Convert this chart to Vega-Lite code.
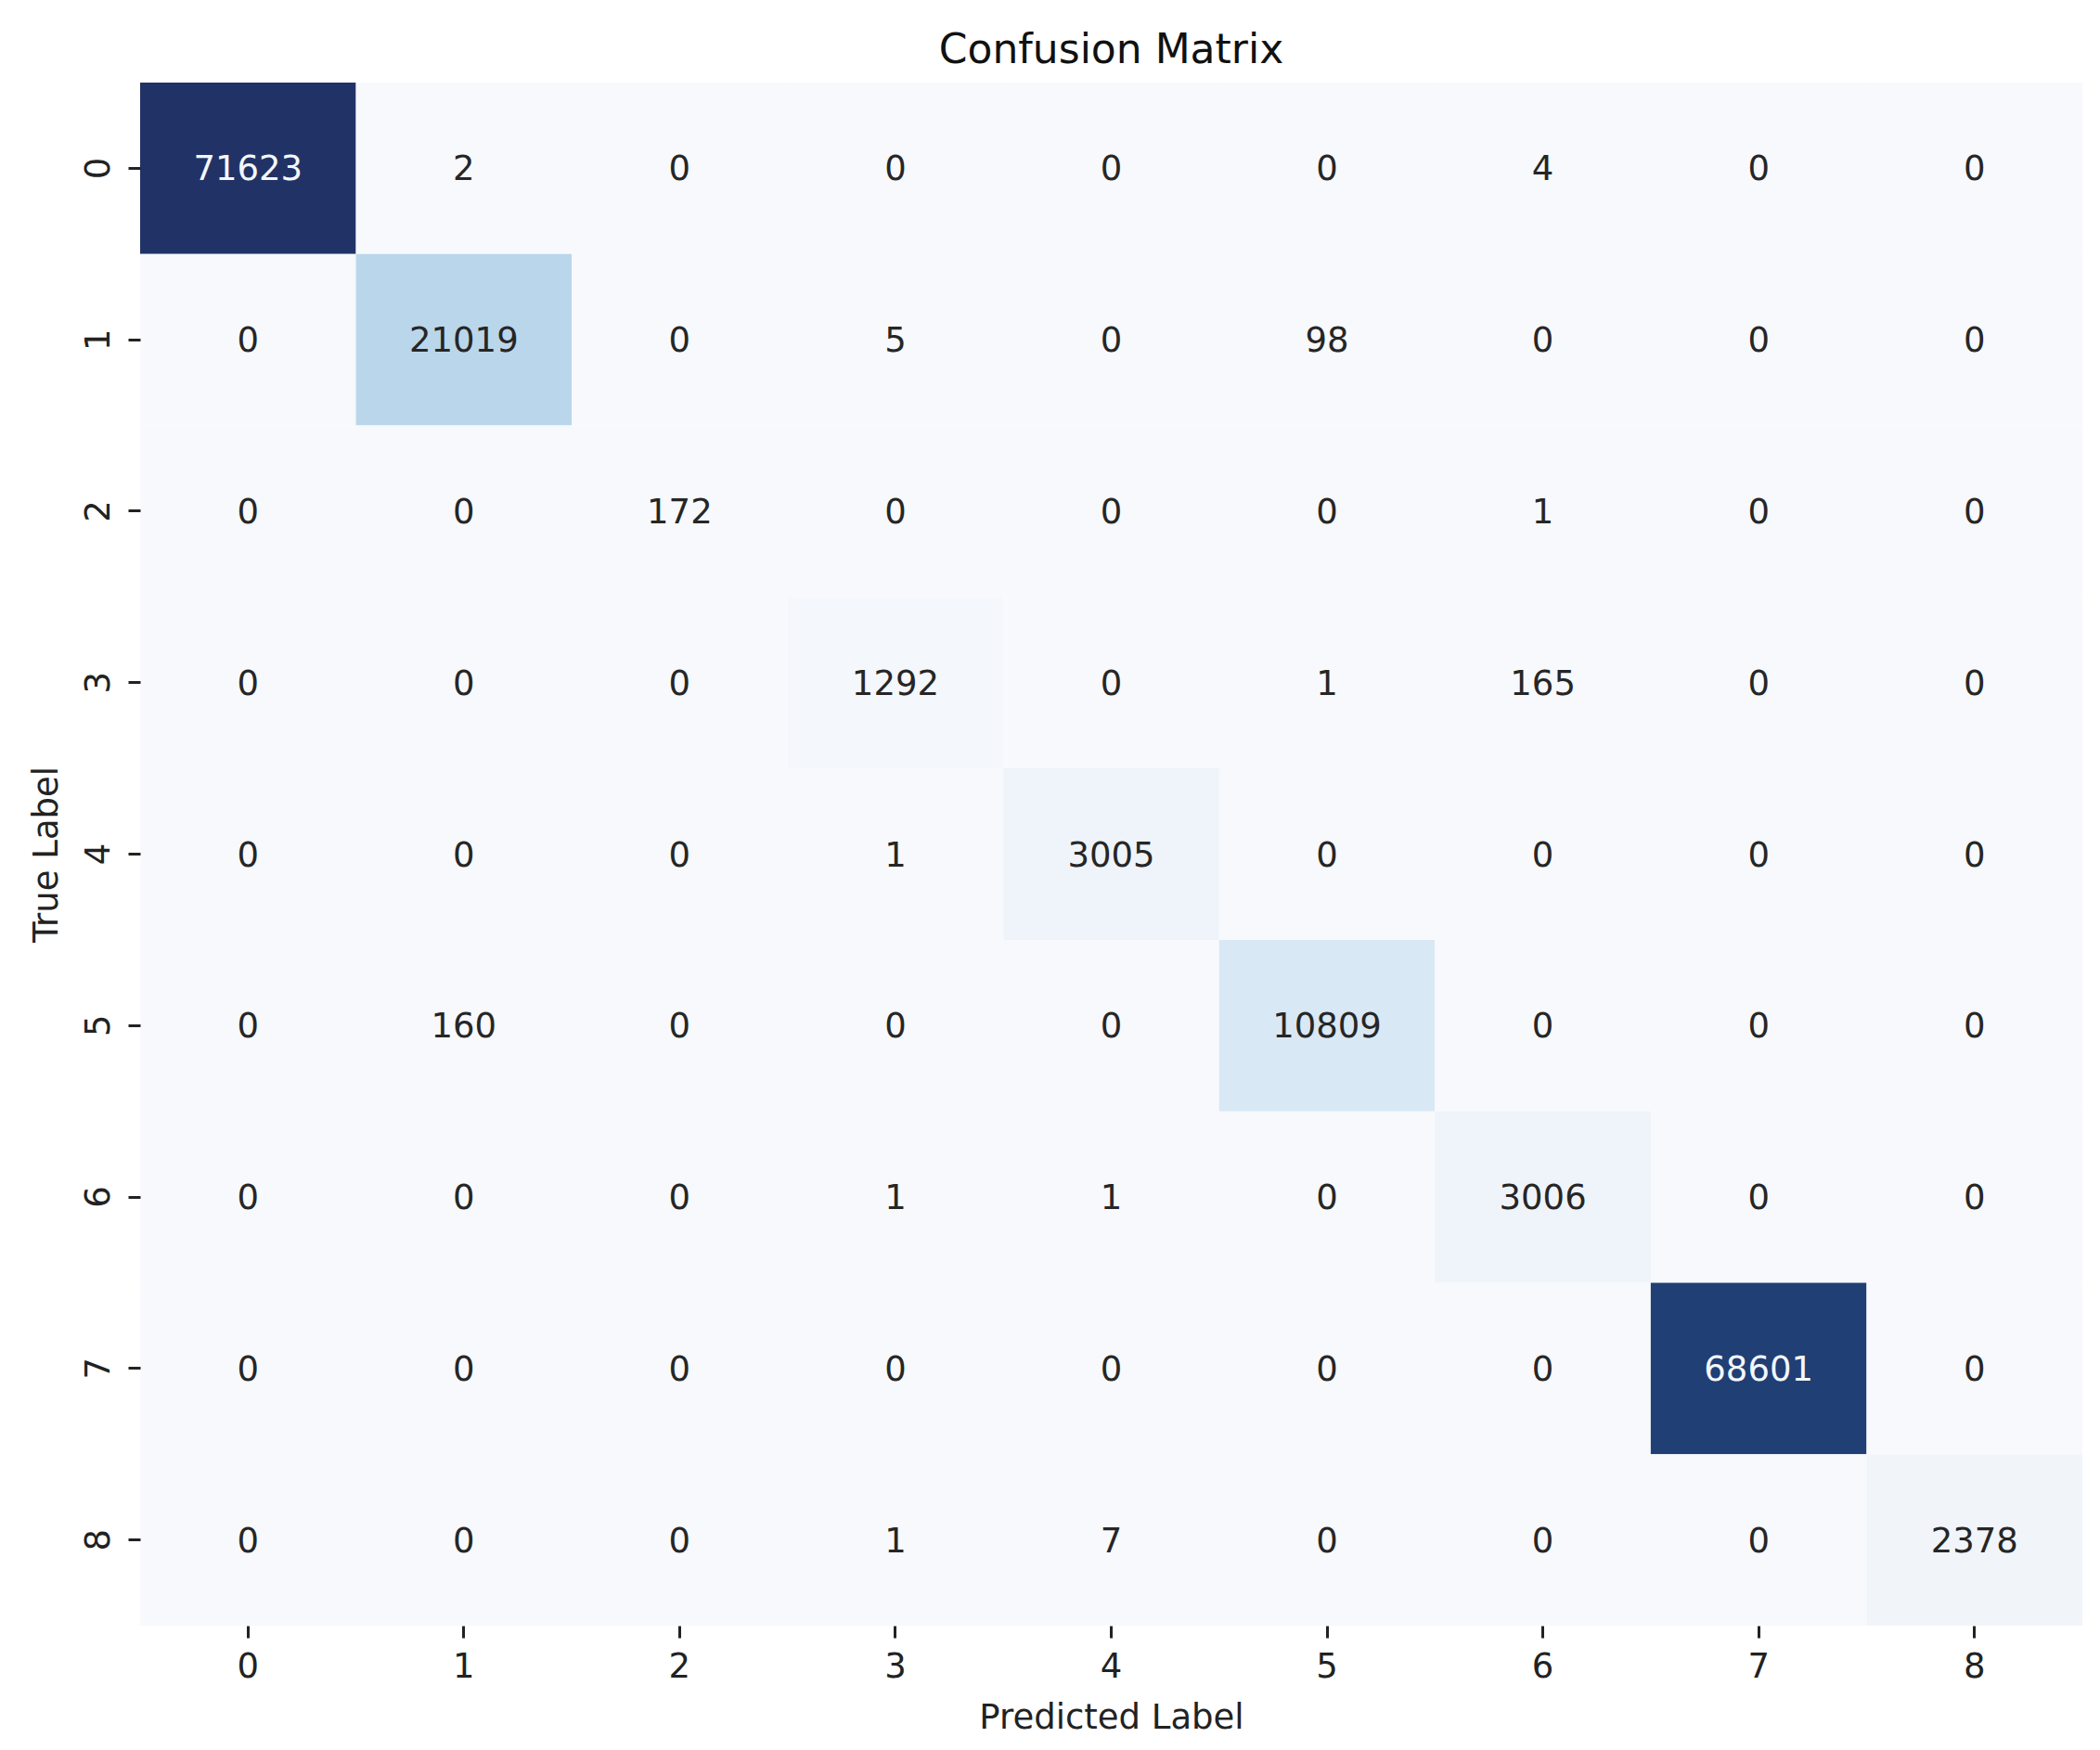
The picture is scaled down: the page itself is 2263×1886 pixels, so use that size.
{
  "$schema": "https://vega.github.io/schema/vega-lite/v6.json",
  "autosize": "none",
  "width": 2093,
  "height": 1663,
  "padding": {"left": 151, "top": 89, "right": 19, "bottom": 134},
  "background": "#ffffff",
  "title": {"text": "Confusion Matrix", "font": "DejaVu Sans", "fontSize": 44, "fontWeight": "normal", "color": "#111111", "anchor": "middle", "baseline": "alphabetic", "offset": 22, "dy": 45},
  "data": {"values": [
    {"t":"0","p":"0","v":71623},{"t":"0","p":"1","v":2},{"t":"0","p":"2","v":0},{"t":"0","p":"3","v":0},{"t":"0","p":"4","v":0},{"t":"0","p":"5","v":0},{"t":"0","p":"6","v":4},{"t":"0","p":"7","v":0},{"t":"0","p":"8","v":0},
    {"t":"1","p":"0","v":0},{"t":"1","p":"1","v":21019},{"t":"1","p":"2","v":0},{"t":"1","p":"3","v":5},{"t":"1","p":"4","v":0},{"t":"1","p":"5","v":98},{"t":"1","p":"6","v":0},{"t":"1","p":"7","v":0},{"t":"1","p":"8","v":0},
    {"t":"2","p":"0","v":0},{"t":"2","p":"1","v":0},{"t":"2","p":"2","v":172},{"t":"2","p":"3","v":0},{"t":"2","p":"4","v":0},{"t":"2","p":"5","v":0},{"t":"2","p":"6","v":1},{"t":"2","p":"7","v":0},{"t":"2","p":"8","v":0},
    {"t":"3","p":"0","v":0},{"t":"3","p":"1","v":0},{"t":"3","p":"2","v":0},{"t":"3","p":"3","v":1292},{"t":"3","p":"4","v":0},{"t":"3","p":"5","v":1},{"t":"3","p":"6","v":165},{"t":"3","p":"7","v":0},{"t":"3","p":"8","v":0},
    {"t":"4","p":"0","v":0},{"t":"4","p":"1","v":0},{"t":"4","p":"2","v":0},{"t":"4","p":"3","v":1},{"t":"4","p":"4","v":3005},{"t":"4","p":"5","v":0},{"t":"4","p":"6","v":0},{"t":"4","p":"7","v":0},{"t":"4","p":"8","v":0},
    {"t":"5","p":"0","v":0},{"t":"5","p":"1","v":160},{"t":"5","p":"2","v":0},{"t":"5","p":"3","v":0},{"t":"5","p":"4","v":0},{"t":"5","p":"5","v":10809},{"t":"5","p":"6","v":0},{"t":"5","p":"7","v":0},{"t":"5","p":"8","v":0},
    {"t":"6","p":"0","v":0},{"t":"6","p":"1","v":0},{"t":"6","p":"2","v":0},{"t":"6","p":"3","v":1},{"t":"6","p":"4","v":1},{"t":"6","p":"5","v":0},{"t":"6","p":"6","v":3006},{"t":"6","p":"7","v":0},{"t":"6","p":"8","v":0},
    {"t":"7","p":"0","v":0},{"t":"7","p":"1","v":0},{"t":"7","p":"2","v":0},{"t":"7","p":"3","v":0},{"t":"7","p":"4","v":0},{"t":"7","p":"5","v":0},{"t":"7","p":"6","v":0},{"t":"7","p":"7","v":68601},{"t":"7","p":"8","v":0},
    {"t":"8","p":"0","v":0},{"t":"8","p":"1","v":0},{"t":"8","p":"2","v":0},{"t":"8","p":"3","v":1},{"t":"8","p":"4","v":7},{"t":"8","p":"5","v":0},{"t":"8","p":"6","v":0},{"t":"8","p":"7","v":0},{"t":"8","p":"8","v":2378}
  ]},
  "encoding": {
    "x": {"field": "p", "type": "ordinal", "sort": "ascending", "scale": {"paddingInner": 0, "paddingOuter": 0},
      "axis": {"title": "Predicted Label", "labelAngle": 0, "bandPosition": 0.5, "domain": false, "grid": false,
        "tickSize": 13, "tickWidth": 3, "tickColor": "#222222", "labelPadding": 13, "labelFontSize": 37, "labelFont": "DejaVu Sans", "labelColor": "#222222",
        "titleFontSize": 37, "titleFont": "DejaVu Sans", "titleFontWeight": "normal", "titleColor": "#222222", "titlePadding": 19}},
    "y": {"field": "t", "type": "ordinal", "sort": "ascending", "scale": {"paddingInner": 0, "paddingOuter": 0},
      "axis": {"title": "True Label", "labelAngle": -90, "labelAlign": "center", "labelBaseline": "bottom", "bandPosition": 0.5, "domain": false, "grid": false,
        "tickSize": 13, "tickWidth": 3, "tickColor": "#222222", "labelPadding": 13, "labelFontSize": 37, "labelFont": "DejaVu Sans", "labelColor": "#222222",
        "titleFontSize": 37, "titleFont": "DejaVu Sans", "titleFontWeight": "normal", "titleColor": "#222222", "titlePadding": 18}}
  },
  "layer": [
    {"mark": {"type": "rect", "strokeWidth": 0},
     "encoding": {"color": {"field": "v", "type": "quantitative", "legend": null,
       "scale": {"type": "linear", "interpolate": "rgb",
         "domain": [0, 1292, 3005, 10809, 21019, 68601, 71623],
         "range": ["#f7f9fc", "#f4f7fb", "#eff4fa", "#d9e8f5", "#bad6eb", "#203f75", "#213366"]}}}},
    {"mark": {"type": "text", "font": "DejaVu Sans", "fontSize": 37, "align": "center", "baseline": "middle", "dy": 2},
     "encoding": {"text": {"field": "v", "type": "quantitative", "format": "d"},
       "color": {"condition": {"test": "datum.v > 40000", "value": "#f4f7fb"}, "value": "#262626"}}}
  ],
  "config": {"view": {"stroke": null}}
}
